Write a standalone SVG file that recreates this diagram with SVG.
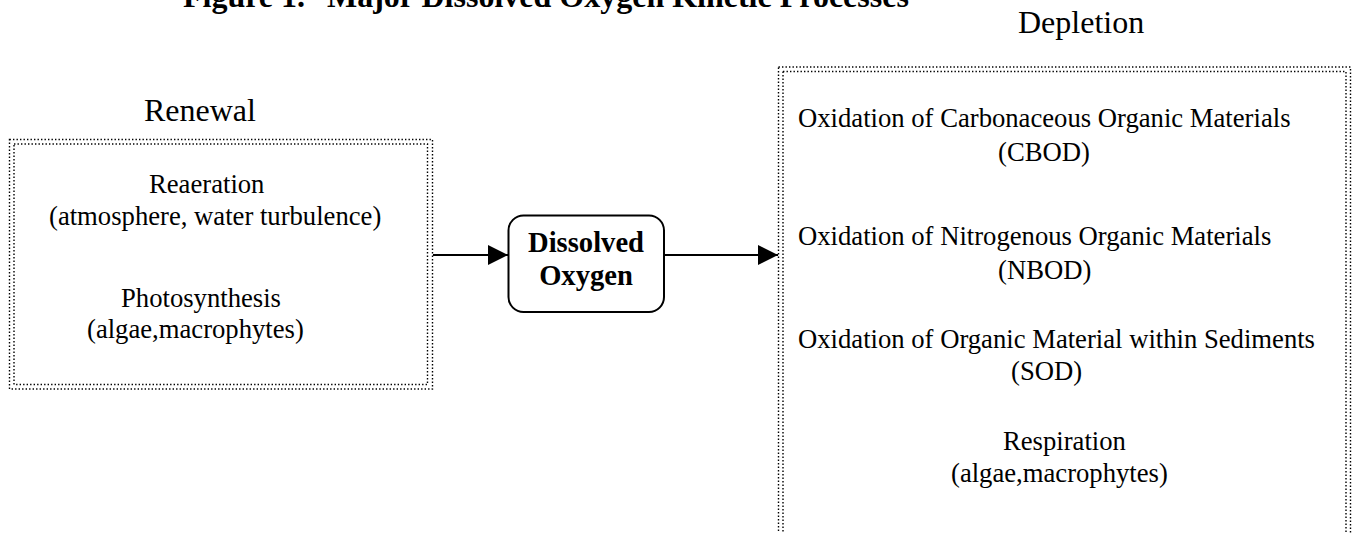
<svg xmlns="http://www.w3.org/2000/svg" width="1354" height="533" viewBox="0 0 1354 533">
<style>
  text { font-family: "Liberation Serif", "Times New Roman", serif; fill: #000; }
  .title { font-size: 32px; font-weight: bold; }
  .head { font-size: 32px; }
  .body { font-size: 26.67px; }
  .bold { font-size: 28.6px; font-weight: bold; }
  .dots { fill: none; stroke: #000; stroke-width: 1.4; stroke-dasharray: 1.4 2.1; }
  .conn { stroke: #000; stroke-width: 1.8; fill: none; }
</style>
<defs>
  <marker id="arrow" markerUnits="userSpaceOnUse" markerWidth="20" markerHeight="20" refX="20" refY="10" orient="auto">
    <path d="M0,0 L20,10 L0,20 Z" fill="#000"/>
  </marker>
</defs>
<rect width="1354" height="533" fill="#fff"/>
<text class="title" x="183" y="6.5">Figure 1.<tspan x="327">Major Dissolved Oxygen Kinetic Processes</tspan></text>

<g id="renewal">
  <text class="head" x="144" y="121">Renewal</text>
  <rect class="dots" x="9.5" y="139.5" width="423" height="249.5"/>
  <rect class="dots" x="14" y="144" width="413.5" height="240.5"/>
  <text class="body" x="149" y="193">Reaeration</text>
  <text class="body" x="49" y="225">(atmosphere, water turbulence)</text>
  <text class="body" x="121" y="307">Photosynthesis</text>
  <text class="body" x="87" y="338">(algae,macrophytes)</text>
</g>

<g id="dissolved-oxygen">
  <rect x="508.5" y="215.5" width="155.5" height="96.5" rx="15" ry="15" fill="#fff" stroke="#000" stroke-width="2"/>
  <text class="bold" x="586" y="252" text-anchor="middle">Dissolved</text>
  <text class="bold" x="586" y="285" text-anchor="middle">Oxygen</text>
</g>

<g id="depletion">
  <text class="head" x="1018" y="33">Depletion</text>
  <rect class="dots" x="778.5" y="67" width="572" height="500"/>
  <rect class="dots" x="783" y="71.5" width="563" height="500"/>
  <text class="body" x="798" y="127">Oxidation of Carbonaceous Organic Materials</text>
  <text class="body" x="998" y="161">(CBOD)</text>
  <text class="body" x="798" y="245">Oxidation of Nitrogenous Organic Materials</text>
  <text class="body" x="998" y="279">(NBOD)</text>
  <text class="body" x="798" y="348">Oxidation of Organic Material within Sediments</text>
  <text class="body" x="1011" y="380">(SOD)</text>
  <text class="body" x="1003" y="450">Respiration</text>
  <text class="body" x="951" y="482">(algae,macrophytes)</text>
</g>

<g id="connectors">
  <line class="conn" x1="433" y1="255" x2="508" y2="255" marker-end="url(#arrow)"/>
  <line class="conn" x1="664" y1="255" x2="778" y2="255" marker-end="url(#arrow)"/>
</g>
</svg>
